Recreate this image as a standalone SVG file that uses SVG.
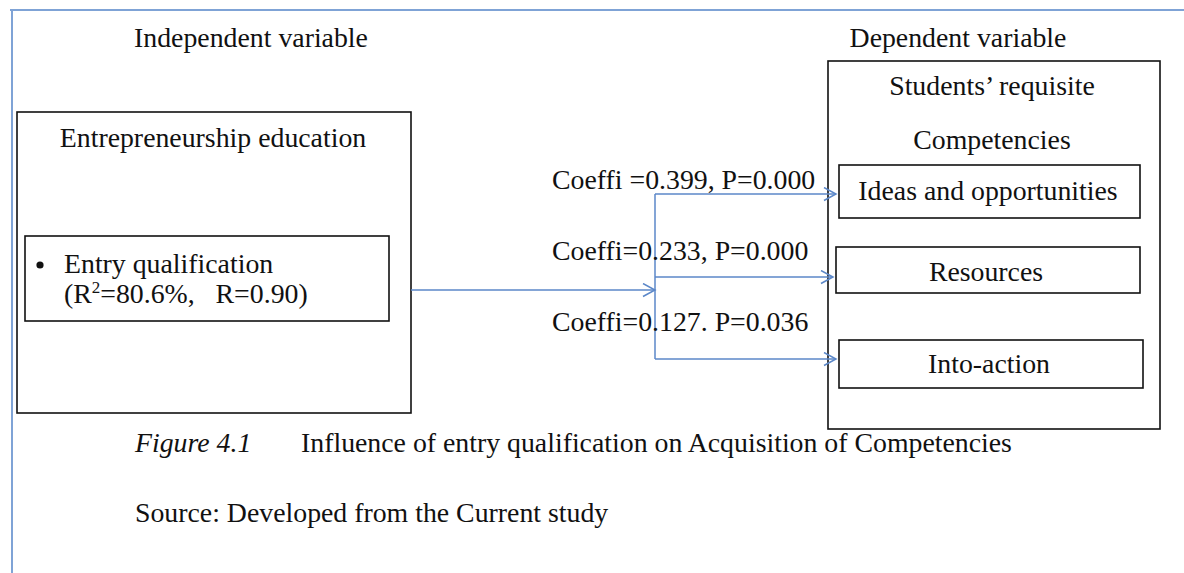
<svg xmlns="http://www.w3.org/2000/svg" width="1184" height="573" viewBox="0 0 1184 573">
<style>
text{font-family:"Liberation Serif","Times New Roman",serif;font-size:27.8px;fill:#111}
.c{text-anchor:middle}
.box{fill:none;stroke:#111;stroke-width:1.6}
.conn{fill:none;stroke:#5b87c8;stroke-width:1.5}
.frame{stroke:#7fa3d6;stroke-width:2;fill:none}
</style>
<defs>
<marker id="arr" markerWidth="16" markerHeight="16" refX="13" refY="7" orient="auto" markerUnits="userSpaceOnUse">
<path d="M1,0.5 L13,7 L1,13.5" fill="none" stroke="#5b87c8" stroke-width="1.5"/>
</marker>
</defs>
<rect width="1184" height="573" fill="#fff"/>
<g id="frame">
<line class="frame" x1="10" y1="10" x2="1184" y2="10"/>
<line class="frame" x1="12" y1="10" x2="12" y2="573"/>
</g>
<g id="headings">
<text class="c" x="251" y="47">Independent variable</text>
<text class="c" x="958" y="47">Dependent variable</text>
</g>
<g id="independent">
<rect class="box" x="17" y="112" width="394" height="301"/>
<text class="c" x="213" y="147">Entrepreneurship education</text>
</g>
<g id="entry-qualification">
<rect class="box" x="25" y="236" width="364" height="85"/>
<circle cx="40" cy="265" r="3.6" fill="#111"/>
<text x="64" y="273">Entry qualification</text>
<text x="64" y="303">(R<tspan font-size="17" dy="-10">2</tspan><tspan dy="10">=80.6%,&#160;&#160; R=0.90)</tspan></text>
</g>
<g id="dependent">
<rect class="box" x="828" y="61" width="332" height="368"/>
<text class="c" x="992" y="95">Students’ requisite</text>
<text class="c" x="992" y="149">Competencies</text>
</g>
<g id="ideas">
<rect class="box" x="839" y="165" width="301" height="53"/>
<text class="c" x="988" y="200">Ideas and opportunities</text>
</g>
<g id="resources">
<rect class="box" x="836" y="247" width="304" height="46"/>
<text class="c" x="986" y="281">Resources</text>
</g>
<g id="into-action">
<rect class="box" x="839" y="340" width="304" height="48"/>
<text class="c" x="989" y="373">Into-action</text>
</g>
<g id="connectors">
<line class="conn" x1="411" y1="290" x2="655" y2="290" marker-end="url(#arr)"/>
<line class="conn" x1="655" y1="194" x2="655" y2="359"/>
<line class="conn" x1="655" y1="194" x2="836" y2="194" marker-end="url(#arr)"/>
<line class="conn" x1="655" y1="277" x2="833" y2="277" marker-end="url(#arr)"/>
<line class="conn" x1="655" y1="359" x2="836" y2="359" marker-end="url(#arr)"/>
</g>
<g id="labels">
<text x="552" y="189">Coeffi =0.399, P=0.000</text>
<text x="552" y="260">Coeffi=0.233, P=0.000</text>
<text x="552" y="331">Coeffi=0.127. P=0.036</text>
</g>
<g id="caption">
<text x="135" y="452" font-style="italic">Figure 4.1</text>
<text x="301" y="452">Influence of entry qualification on Acquisition of Competencies</text>
<text x="135" y="522">Source: Developed from the Current study</text>
</g>
</svg>
